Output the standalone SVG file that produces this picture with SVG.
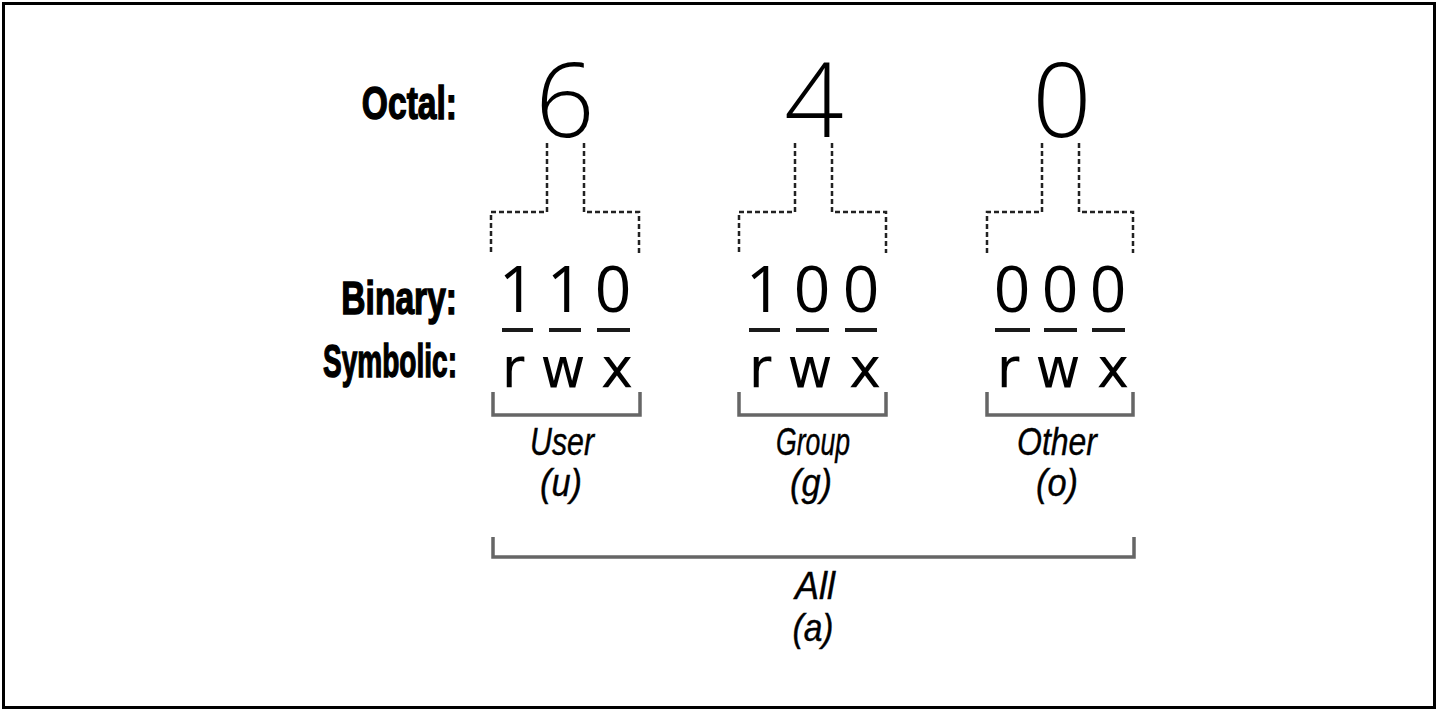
<svg xmlns="http://www.w3.org/2000/svg" width="1438" height="712" viewBox="0 0 1438 712">
<style>
.lbl{font-family:"Liberation Sans",Arial,sans-serif;font-weight:bold;font-size:46px;fill:#000;stroke:#000;stroke-width:1.4;text-anchor:end}
.big{font-family:"Open Sans","DejaVu Sans",sans-serif;font-weight:350;font-size:104px;fill:#000;text-anchor:middle}
.bin{font-family:"Open Sans","DejaVu Sans",sans-serif;font-size:64px;fill:#000;text-anchor:middle}
.sym{font-family:"DejaVu Sans","Open Sans",sans-serif;font-size:55px;fill:#000;text-anchor:middle}
.it{font-family:"Liberation Sans",Arial,sans-serif;font-style:italic;font-size:38px;fill:#000;stroke:#000;stroke-width:0.4;text-anchor:middle}
.dash{fill:none;stroke:#222;stroke-width:2.5;stroke-dasharray:5 3}
.brk{fill:none;stroke:#666;stroke-width:3.5}
.bar{fill:#1a1a1a}
</style>
<rect x="3.5" y="3.5" width="1431" height="704" fill="#fff" stroke="#000" stroke-width="3"/>

<g id="labels">
<text class="lbl" transform="translate(457,119) scale(0.73,1)" x="0" y="0">Octal:</text>
<text class="lbl" transform="translate(457,314) scale(0.73,1)" x="0" y="0">Binary:</text>
<text class="lbl" transform="translate(457,377) scale(0.61,1)" x="0" y="0">Symbolic:</text>
</g>

<g id="connectors">
<path class="dash" d="M547,143 V212 H491 V253 M584,143 V212 H639 V253"/>
<path class="dash" d="M795,143 V212 H739 V253 M832,143 V212 H886 V253"/>
<path class="dash" d="M1042,143 V212 H987 V253 M1079,143 V212 H1133 V253"/>
<path class="brk" d="M493,392 V415 H640 V392"/>
<path class="brk" d="M739,392 V415 H886 V392"/>
<path class="brk" d="M987,392 V415 H1133 V392"/>
<path class="brk" d="M493,537 V557 H1134 V537"/>
</g>

<g id="user">
<text class="big" x="565" y="137">6</text>
<text class="bin" x="517" y="312">1</text>
<text class="bin" x="565" y="312">1</text>
<text class="bin" x="613" y="312">0</text>
<rect class="bar" x="502" y="328" width="31" height="4"/>
<rect class="bar" x="549" y="328" width="32" height="4"/>
<rect class="bar" x="597" y="328" width="33" height="4"/>
<text class="sym" x="513" y="387">r</text>
<text class="sym" x="563" y="387">w</text>
<text class="sym" x="617" y="387">x</text>
<text class="it" x="562" y="455" textLength="64" lengthAdjust="spacingAndGlyphs">User</text>
<text class="it" x="561" y="496" textLength="42" lengthAdjust="spacingAndGlyphs">(u)</text>
</g>

<g id="group">
<text class="big" x="814" y="137">4</text>
<text class="bin" x="764" y="312">1</text>
<text class="bin" x="812" y="312">0</text>
<text class="bin" x="861" y="312">0</text>
<rect class="bar" x="749" y="328" width="31" height="4"/>
<rect class="bar" x="796" y="328" width="33" height="4"/>
<rect class="bar" x="845" y="328" width="32" height="4"/>
<text class="sym" x="760" y="387">r</text>
<text class="sym" x="810" y="387">w</text>
<text class="sym" x="865" y="387">x</text>
<text class="it" x="813" y="455" textLength="74" lengthAdjust="spacingAndGlyphs">Group</text>
<text class="it" x="811" y="496" textLength="42" lengthAdjust="spacingAndGlyphs">(g)</text>
</g>

<g id="other">
<text class="big" x="1062" y="137">0</text>
<text class="bin" x="1012" y="312">0</text>
<text class="bin" x="1060" y="312">0</text>
<text class="bin" x="1108" y="312">0</text>
<rect class="bar" x="995" y="328" width="35" height="4"/>
<rect class="bar" x="1044" y="328" width="33" height="4"/>
<rect class="bar" x="1092" y="328" width="33" height="4"/>
<text class="sym" x="1008" y="387">r</text>
<text class="sym" x="1058" y="387">w</text>
<text class="sym" x="1113" y="387">x</text>
<text class="it" x="1057" y="455" textLength="80" lengthAdjust="spacingAndGlyphs">Other</text>
<text class="it" x="1057" y="496" textLength="42" lengthAdjust="spacingAndGlyphs">(o)</text>
</g>

<g id="all">
<text class="it" x="815" y="599" textLength="40" lengthAdjust="spacingAndGlyphs">All</text>
<text class="it" x="813" y="641" textLength="41" lengthAdjust="spacingAndGlyphs">(a)</text>
</g>
</svg>
